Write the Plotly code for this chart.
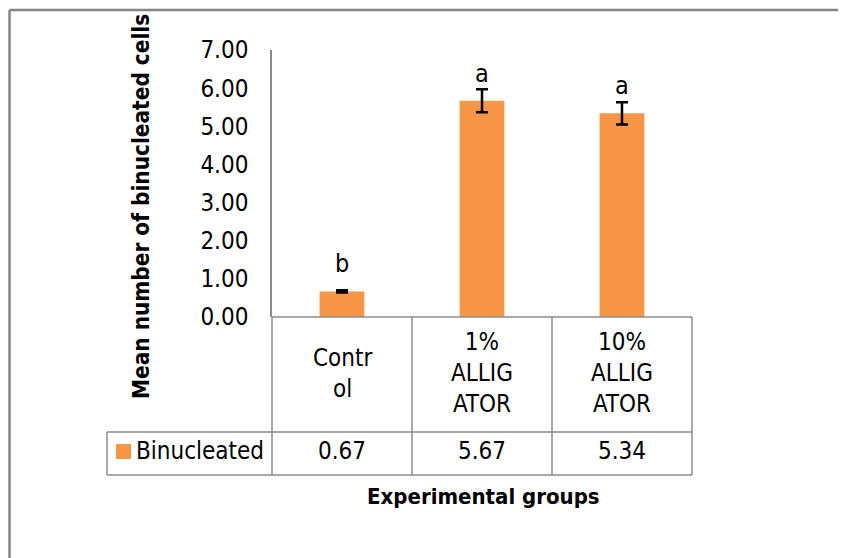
import plotly.graph_objects as go

categories = ["Control", "1% ALLIGATOR", "10% ALLIGATOR"]
category_labels = ["Contr<br>ol", "1%<br>ALLIG<br>ATOR", "10%<br>ALLIG<br>ATOR"]
series_name = "Binucleated"
values = [0.67, 5.67, 5.34]
errors = [0.03, 0.30, 0.29]
letters = ["b", "a", "a"]
y_ticks = [0, 1, 2, 3, 4, 5, 6, 7]

W, H = 846, 558
OFF = 8  # page body margin
FONT = "DejaVu Sans Condensed, DejaVu Sans, sans-serif"
GRID = "#8c8c8c"
ORANGE = "#F79646"


def px(x):
    return (x - OFF) / W


def py(y):
    return 1 - (y - OFF) / H


fig = go.Figure()
fig.add_trace(go.Bar(
    x=categories, y=values, name=series_name,
    marker=dict(color=ORANGE, line=dict(width=0)),
    width=0.32,
    error_y=dict(type="data", array=errors, visible=True,
                 color="black", thickness=2.5, width=6),
    showlegend=False,
))

annotations = []
for c, v, l in zip(categories, values, letters):
    annotations.append(dict(x=c, y=v, xref="x", yref="y", text=l, showarrow=False,
                            yanchor="bottom", yshift=11,
                            font=dict(family=FONT, size=25, color="black")))

col_x = [272, 412, 552, 692]
top_y, mid_y, bot_y, left_x = 317, 432, 475, 107

shapes = []
line = dict(color=GRID, width=1.5)
shapes.append(dict(type="line", xref="paper", yref="paper", x0=px(col_x[0]), x1=px(col_x[-1]),
                   y0=py(top_y), y1=py(top_y), line=line))
for yy in (mid_y, bot_y):
    shapes.append(dict(type="line", xref="paper", yref="paper", x0=px(left_x), x1=px(col_x[-1]),
                       y0=py(yy), y1=py(yy), line=line))
for xx in col_x:
    shapes.append(dict(type="line", xref="paper", yref="paper", x0=px(xx), x1=px(xx),
                       y0=py(top_y), y1=py(bot_y), line=line))
shapes.append(dict(type="line", xref="paper", yref="paper", x0=px(left_x), x1=px(left_x),
                   y0=py(mid_y), y1=py(bot_y), line=line))
shapes.append(dict(type="rect", xref="paper", yref="paper", x0=px(116), x1=px(131),
                   y0=py(459), y1=py(444), fillcolor=ORANGE, line=dict(width=0)))
border = dict(color="#858585", width=2.5)
shapes.append(dict(type="line", xref="paper", yref="paper", x0=px(9.5), x1=px(870),
                   y0=py(10), y1=py(10), line=border))
shapes.append(dict(type="line", xref="paper", yref="paper", x0=px(9.5), x1=px(9.5),
                   y0=py(10), y1=py(600), line=border))

for i, lab in enumerate(category_labels):
    annotations.append(dict(x=categories[i], y=py(373), xref="x", yref="paper", text=lab,
                            showarrow=False, yanchor="middle", align="center",
                            font=dict(family=FONT, size=24, color="black")))
for i, v in enumerate(values):
    annotations.append(dict(x=categories[i], y=py(451), xref="x", yref="paper",
                            text=f"{v:.2f}", showarrow=False, yanchor="middle",
                            font=dict(family=FONT, size=24, color="black")))
annotations.append(dict(x=px(134), y=py(451), xref="paper", yref="paper", text=series_name,
                        showarrow=False, xanchor="left", yanchor="middle",
                        font=dict(family=FONT, size=24, color="black")))
annotations.append(dict(x=px(141), y=py(207), xref="paper", yref="paper",
                        text="<b>Mean number of binucleated cells</b>", textangle=-90,
                        showarrow=False, xanchor="center", yanchor="middle",
                        font=dict(family=FONT, size=22.4, color="black")))
annotations.append(dict(x=px(483), y=py(496), xref="paper", yref="paper",
                        text="<b>Experimental groups</b>",
                        showarrow=False, xanchor="center", yanchor="middle",
                        font=dict(family=FONT, size=22, color="black")))

fig.update_layout(
    width=W, height=H,
    margin=dict(l=0, r=0, t=0, b=0, autoexpand=False),
    paper_bgcolor="white", plot_bgcolor="white",
    xaxis=dict(domain=[px(272), px(692)], showticklabels=False, showline=False,
               showgrid=False, zeroline=False, ticks="", automargin=False),
    yaxis=dict(domain=[py(317), py(50)], range=[0, 7], tickvals=y_ticks,
               tickformat=".2f", showgrid=False, zeroline=False, automargin=False,
               showline=True, linecolor=GRID, linewidth=1.5, ticks="",
               ticklabelstandoff=17,
               tickfont=dict(family=FONT, size=24, color="black")),
    annotations=annotations, shapes=shapes,
)

fig.write_html("out.html")
